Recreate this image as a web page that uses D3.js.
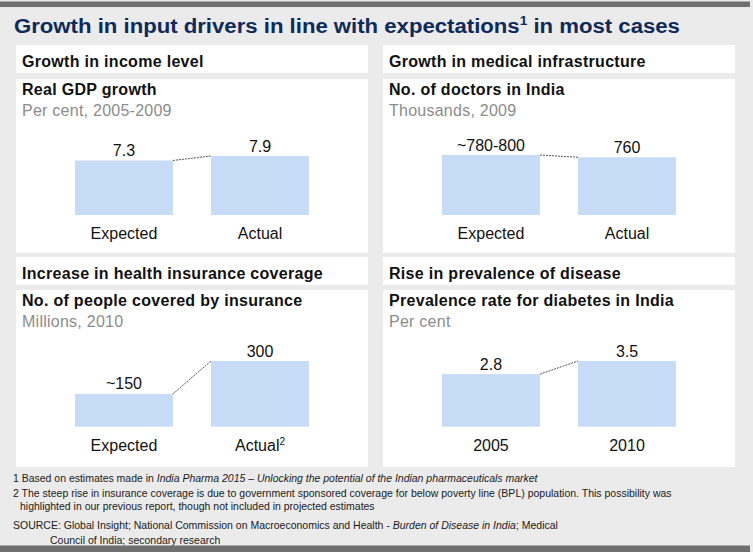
<!DOCTYPE html>
<html><head><meta charset="utf-8">
<script src="https://cdn.jsdelivr.net/npm/d3@7/dist/d3.min.js"></script>
<style>
html,body{margin:0;padding:0;background:#fff;}
svg{display:block;font-family:"Liberation Sans",Arial,sans-serif;}
</style></head><body>
<svg id="c" width="753" height="552"></svg>
<script>
// ---- data ----
const titleText = ["Growth in input drivers in line with expectations", "1", " in most cases"];
const panelHeaders = ["Growth in income level", "Growth in medical infrastructure", "Increase in health insurance coverage", "Rise in prevalence of disease"];
const panelTitles = ["Real GDP growth", "No. of doctors in India", "No. of people covered by insurance", "Prevalence rate for diabetes in India"];
const panelUnits = ["Per cent, 2005-2009", "Thousands, 2009", "Millions, 2010", "Per cent"];
const gdpCategories = ["Expected", "Actual"];
const gdpValues = [7.3, 7.9];
const gdpLabels = ["7.3", "7.9"];
const doctorCategories = ["Expected", "Actual"];
const doctorValues = [790, 760];
const doctorLabels = ["~780-800", "760"];
const insuranceCategories = ["Expected", "Actual"];
const insuranceValues = [150, 300];
const insuranceLabels = ["~150", "300"];
const insuranceSup = ["", "2"];
const diabetesCategories = ["2005", "2010"];
const diabetesValues = [2.8, 3.5];
const diabetesLabels = ["2.8", "3.5"];
const footnotes = [
  [["1 Based on estimates made in ", false], ["India Pharma 2015 \u2013 Unlocking the potential of the Indian pharmaceuticals market", true]],
  [["2 The steep rise in insurance coverage is due to government sponsored coverage for below poverty line (BPL) population. This possibility was", false]],
  [["highlighted in our previous report, though not included in projected estimates", false]],
  [["SOURCE: Global Insight; National Commission on Macroeconomics and Health - ", false], ["Burden of Disease in India", true], ["; Medical", false]],
  [["Council of India; secondary research", false]]
];

// ---- layout ----
const svg = d3.select("#c");
const W = 753, H = 552;
svg.append("rect").attr("width", W).attr("height", H).attr("fill", "#ebebeb");

const fitX = (sel, x, y, target) => {
  const w = sel.node().getComputedTextLength();
  const s = target / w;
  sel.attr("transform", `translate(${x},${y}) scale(${s},1)`);
  return s;
};

// title
const title = svg.append("text").attr("font-size", 21).attr("font-weight", "bold").attr("fill", "#0e2a5a");
title.append("tspan").text(titleText[0]);
title.append("tspan").text(titleText[1]).attr("font-size", 13).attr("dy", -8);
title.append("tspan").text(titleText[2]).attr("dy", 8);
fitX(title, 14, 33, 666);

const panels = [
  {x: 16, hy: 45, hh: 28, cy: 79, ch: 174, base: 215, maxH: 59, cats: gdpCategories, vals: gdpValues, labs: gdpLabels, sup: null},
  {x: 383, hy: 45, hh: 28, cy: 79, ch: 174, base: 215, maxH: 60, cats: doctorCategories, vals: doctorValues, labs: doctorLabels, sup: null},
  {x: 16, hy: 257, hh: 28, cy: 290, ch: 177, base: 426.7, maxH: 65.7, cats: insuranceCategories, vals: insuranceValues, labs: insuranceLabels, sup: insuranceSup},
  {x: 383, hy: 257, hh: 28, cy: 290, ch: 177, base: 426.7, maxH: 65.7, cats: diabetesCategories, vals: diabetesValues, labs: diabetesLabels, sup: null}
];
const PW = 352;

panels.forEach((p, i) => {
  const g = svg.append("g");
  g.append("rect").attr("x", p.x).attr("y", p.hy).attr("width", PW).attr("height", p.hh).attr("fill", "#fff");
  g.append("rect").attr("x", p.x).attr("y", p.cy).attr("width", PW).attr("height", p.ch).attr("fill", "#fff");
  g.append("text").attr("x", p.x + 6).attr("y", p.hy + 22).attr("font-size", 16).attr("font-weight", "bold")
    .attr("letter-spacing", 0.3).attr("fill", "#111").text(panelHeaders[i]);
  g.append("text").attr("x", p.x + 6).attr("y", p.cy + 16).attr("font-size", 16).attr("font-weight", "bold")
    .attr("letter-spacing", 0.3).attr("fill", "#111").text(panelTitles[i]);
  g.append("text").attr("x", p.x + 6).attr("y", p.cy + 37).attr("font-size", 16)
    .attr("letter-spacing", 0.25).attr("fill", "#8c8c8c").text(panelUnits[i]);

  const xs = d3.scaleBand().domain(p.cats).range([p.x + 59, p.x + 293]).paddingInner(0.28).paddingOuter(0);
  const ys = d3.scaleLinear().domain([0, d3.max(p.vals)]).range([p.base, p.base - p.maxH]);
  const data = p.cats.map((c, k) => ({c, v: p.vals[k], l: p.labs[k], s: p.sup ? p.sup[k] : ""}));

  g.selectAll(".bar").data(data).join("rect")
    .attr("x", d => xs(d.c)).attr("y", d => ys(d.v))
    .attr("width", xs.bandwidth()).attr("height", d => ys(0) - ys(d.v))
    .attr("fill", "#c6dcf6");

  g.append("line")
    .attr("x1", xs(data[0].c) + xs.bandwidth()).attr("y1", ys(data[0].v))
    .attr("x2", xs(data[1].c)).attr("y2", ys(data[1].v))
    .attr("stroke", "#555").attr("stroke-width", 1).attr("stroke-dasharray", "2,1");

  g.selectAll(".val").data(data).join("text")
    .attr("x", d => xs(d.c) + xs.bandwidth() / 2).attr("y", d => ys(d.v) - 4.5)
    .attr("text-anchor", "middle").attr("font-size", 16).attr("fill", "#111").text(d => d.l);

  const cl = g.selectAll(".cat").data(data).join("text")
    .attr("x", d => xs(d.c) + xs.bandwidth() / 2).attr("y", p.base + 24)
    .attr("text-anchor", "middle").attr("font-size", 16).attr("fill", "#111");
  cl.append("tspan").text(d => d.c);
  cl.filter(d => d.s).append("tspan").attr("font-size", 10).attr("dy", -6).text(d => d.s);
});

// footnotes
const fnPos = [[13, 482, 525], [13, 497, 659], [20, 510, 355], [13, 529, 545], [50, 544, null]];
let lastScale = 1;
footnotes.forEach((parts, i) => {
  const t = svg.append("text").attr("font-size", 11).attr("fill", "#1a1a1a");
  parts.forEach(([s, it]) => t.append("tspan").text(s).attr("font-style", it ? "italic" : "normal"));
  if (fnPos[i][2] == null) {
    t.attr("transform", `translate(${fnPos[i][0]},${fnPos[i][1]}) scale(${lastScale},1)`);
  } else {
    lastScale = fitX(t, fnPos[i][0], fnPos[i][1], fnPos[i][2]);
  }
});

// frame bars
svg.append("rect").attr("x", 0).attr("y", 1.5).attr("width", 750).attr("height", 5.5).attr("fill", "#6f6f6f");
svg.append("rect").attr("x", 0).attr("y", 545.5).attr("width", 750).attr("height", 6.5).attr("fill", "#6f6f6f");
</script>
</body></html>
